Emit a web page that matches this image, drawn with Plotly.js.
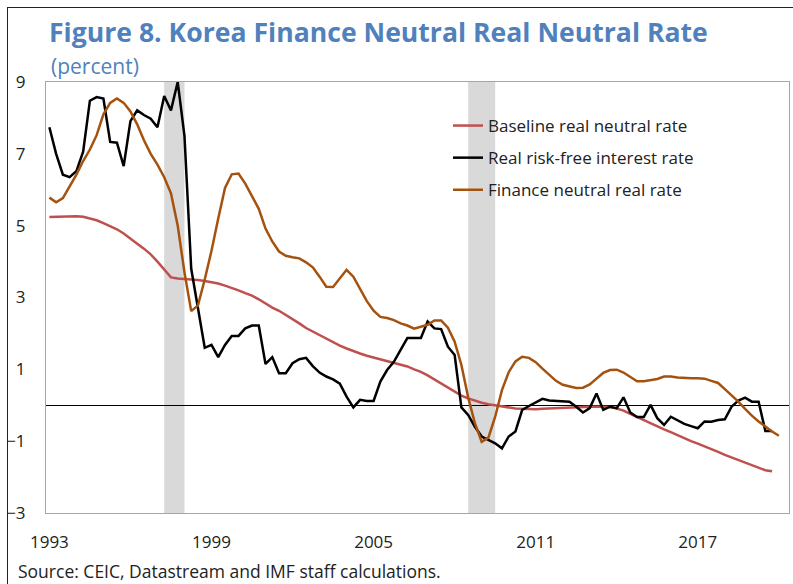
<!DOCTYPE html>
<html>
<head>
<meta charset="utf-8">
<script src="https://cdn.plot.ly/plotly-3.0.1.min.js"></script>
<style>
  html, body { margin: 0; padding: 0; background: #fff; }
  #frame { position: absolute; left: 7px; top: 7px; width: 800px; height: 600px;
           border-top: 1.5px solid #222; border-left: 1.5px solid #222; pointer-events: none; }
  #chart { position: absolute; left: 0; top: 0; width: 793px; height: 584px; }
</style>
</head>
<body>
<div id="chart"></div>
<div id="frame"></div>
<script>
// Quarterly observations starting 1993Q1
const startYear = 1993;

const baseline = [
  5.24, 5.25, 5.26, 5.26, 5.26, 5.25, 5.20, 5.15, 5.07, 4.98,
  4.90, 4.78, 4.65, 4.50, 4.36, 4.20, 4.00, 3.78, 3.56, 3.53,
  3.52, 3.51, 3.49, 3.46, 3.43, 3.39, 3.33, 3.27, 3.20, 3.12,
  3.05, 2.95, 2.83, 2.72, 2.63, 2.52, 2.40, 2.28, 2.15, 2.05,
  1.96, 1.86, 1.76, 1.66, 1.58, 1.50, 1.44, 1.38, 1.33, 1.29,
  1.24, 1.20, 1.15, 1.08, 1.00, 0.93, 0.83, 0.72, 0.62, 0.50,
  0.38, 0.27, 0.19, 0.12, 0.07, 0.03, 0.00, -0.04, -0.07, -0.09,
  -0.10, -0.11, -0.11, -0.10, -0.09, -0.08, -0.06, -0.05, -0.04, -0.04,
  -0.04, -0.04, -0.04, -0.05, -0.09, -0.15, -0.24, -0.33, -0.41, -0.50,
  -0.59, -0.67, -0.75, -0.84, -0.92, -1.00, -1.07, -1.14, -1.22, -1.30,
  -1.38, -1.45, -1.52, -1.58, -1.65, -1.73, -1.81, -1.84
];

const riskFree = [
  7.74, 7.00, 6.42, 6.35, 6.52, 7.06, 8.48, 8.58, 8.54, 7.33,
  7.31, 6.66, 7.91, 8.21, 8.08, 7.98, 7.74, 8.61, 8.21, 9.00,
  7.50, 3.80, 2.70, 1.60, 1.68, 1.34, 1.68, 1.93, 1.93, 2.14,
  2.22, 2.22, 1.15, 1.34, 0.89, 0.89, 1.17, 1.28, 1.32, 1.09,
  0.91, 0.80, 0.72, 0.60, 0.24, -0.06, 0.15, 0.12, 0.12, 0.66,
  0.98, 1.21, 1.54, 1.87, 1.87, 1.87, 2.33, 2.14, 2.12, 1.63,
  1.40, -0.06, -0.27, -0.60, -0.87, -0.97, -1.06, -1.20, -0.87, -0.73,
  -0.13, -0.02, 0.07, 0.18, 0.13, 0.12, 0.10, 0.10, -0.04, -0.20,
  -0.08, 0.33, -0.13, -0.04, -0.08, 0.22, -0.20, -0.33, -0.33, 0.01,
  -0.36, -0.55, -0.32, -0.41, -0.52, -0.58, -0.64, -0.45, -0.46, -0.41,
  -0.39, -0.04, 0.13, 0.21, 0.10, 0.10, -0.72, -0.72
];

const financeNeutral = [
  5.78, 5.65, 5.77, 6.08, 6.42, 6.80, 7.12, 7.52, 8.10, 8.42,
  8.54, 8.42, 8.18, 7.82, 7.38, 7.00, 6.70, 6.35, 5.90, 5.00,
  3.70, 2.62, 2.78, 3.50, 4.30, 5.20, 6.05, 6.43, 6.45, 6.17,
  5.82, 5.47, 4.92, 4.56, 4.28, 4.16, 4.12, 4.09, 3.98, 3.84,
  3.58, 3.30, 3.29, 3.54, 3.77, 3.58, 3.26, 2.90, 2.63, 2.46,
  2.43, 2.37, 2.28, 2.22, 2.13, 2.19, 2.24, 2.36, 2.36, 2.16,
  1.77, 1.12, 0.22, -0.50, -1.02, -0.90, -0.32, 0.42, 0.92, 1.22,
  1.35, 1.32, 1.20, 1.02, 0.84, 0.68, 0.57, 0.52, 0.48, 0.49,
  0.58, 0.74, 0.90, 0.98, 0.99, 0.91, 0.78, 0.67, 0.67, 0.70,
  0.73, 0.80, 0.80, 0.77, 0.75, 0.75, 0.75, 0.74, 0.68, 0.62,
  0.45, 0.28, 0.10, -0.10, -0.29, -0.45, -0.60, -0.73, -0.85
];

// Shaded crisis periods (decimal years)
const crisisStart = [1997.25, 2008.5];
const crisisEnd = [1998.0, 2009.5];

const tickYears = [1993, 1999, 2005, 2011, 2017];
const tickLabels = ['1993', '1999', '2005', '2011', '2017'];

function quarters(n) {
  const q = [];
  for (let i = 0; i < n; i++) q.push(startYear + i / 4);
  return q;
}

const FONT = '"Open Sans", "Noto Sans", sans-serif';

const traces = [
  { x: quarters(baseline.length), y: baseline, type: 'scatter', mode: 'lines',
    name: 'Baseline real neutral rate', legendgroup: 'a',
    line: { color: '#C0504D', width: 2.5 } },
  { x: quarters(riskFree.length), y: riskFree, type: 'scatter', mode: 'lines',
    name: 'Real risk-free interest rate', legendgroup: 'b',
    line: { color: '#000000', width: 2.5 } },
  { x: quarters(financeNeutral.length), y: financeNeutral, type: 'scatter', mode: 'lines',
    name: 'Finance neutral real rate', legendgroup: 'c',
    line: { color: '#A5520F', width: 2.5 } }
];

const shapes = crisisStart.map((s, k) => ({
  type: 'rect', xref: 'x', yref: 'paper', x0: s, x1: crisisEnd[k], y0: 0, y1: 1,
  fillcolor: '#D9D9D9', line: { width: 0 }, layer: 'below'
}));

const layout = {
  width: 793, height: 584,
  margin: { l: 46, r: 4, t: 82, b: 71 },
  paper_bgcolor: '#ffffff', plot_bgcolor: '#ffffff',
  font: { family: FONT, size: 16, color: '#222222' },
  title: {
    text: 'Figure 8. Korea Finance Neutral Real Neutral Rate',
    font: { family: FONT, size: 26.6, color: '#4F81BD', weight: 'bold' },
    xref: 'container', yref: 'container',
    x: 49 / 793, xanchor: 'left', y: 1 - 33 / 584, yanchor: 'middle'
  },
  xaxis: {
    range: [1992.875, 2020.375], showgrid: false, zeroline: false,
    tickmode: 'array', tickvals: tickYears, ticktext: tickLabels,
    ticks: 'outside', ticklen: 14, tickcolor: 'rgba(0,0,0,0)',
    showline: true, linecolor: '#A6A6A6', linewidth: 1, mirror: true,
    tickfont: { family: FONT, size: 17, color: '#222' }
  },
  yaxis: {
    range: [-3, 9], tickmode: 'array', tickvals: [-3, -1, 1, 3, 5, 7, 9],
    showgrid: false, zeroline: true, zerolinecolor: '#000000', zerolinewidth: 1,
    ticks: 'outside', ticklen: 16, tickcolor: 'rgba(0,0,0,0)',
    showline: true, linecolor: '#A6A6A6', linewidth: 1, mirror: true,
    tickfont: { family: FONT, size: 17, color: '#222' }
  },
  legend: {
    x: (448 - 46) / 743, xanchor: 'left', y: (513 - 108) / 431, yanchor: 'top',
    bgcolor: 'rgba(0,0,0,0)', borderwidth: 0,
    traceorder: 'grouped', tracegroupgap: 7, itemwidth: 30,
    font: { family: FONT, size: 17, color: '#222' }
  },
  shapes: shapes,
  annotations: [
    { text: '(percent)', xref: 'paper', yref: 'paper',
      x: (49 - 46) / 743, xanchor: 'left', y: (513 - 66) / 431, yanchor: 'middle',
      showarrow: false, font: { family: FONT, size: 21, color: '#4F81BD' } },
    { text: 'Source: CEIC, Datastream and IMF staff calculations.', xref: 'paper', yref: 'paper',
      x: (16 - 46) / 743, xanchor: 'left', y: (513 - 571) / 431, yanchor: 'middle',
      showarrow: false, font: { family: FONT, size: 17.5, color: '#222' } }
  ],
  showlegend: true
};

Plotly.newPlot('chart', traces, layout, { displayModeBar: false, staticPlot: true });
</script>
</body>
</html>
